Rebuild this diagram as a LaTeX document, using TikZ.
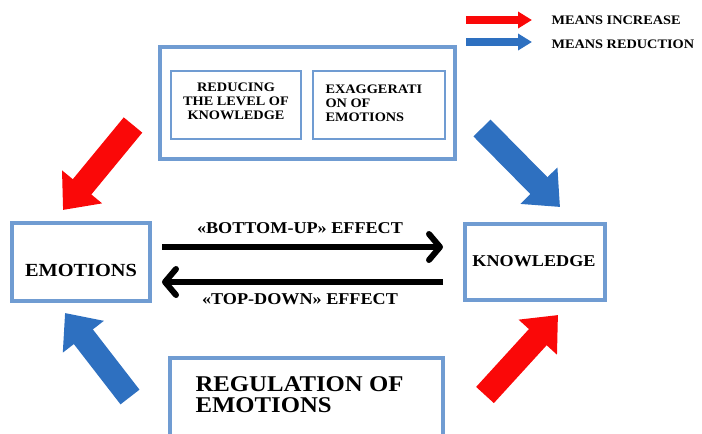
\documentclass[tikz,border=0pt]{standalone}
\usepackage{fontspec}
\setmainfont{Liberation Serif}[FakeStretch=1.1]
\usepackage{tikz}
\usetikzlibrary{arrows.meta}
\definecolor{frameblue}{RGB}{112,156,210}
\definecolor{arrowblue}{RGB}{46,112,192}
\definecolor{arrowred}{RGB}{250,8,8}

\begin{document}
\begin{tikzpicture}[x=1pt, y=-1pt,
  frame/.style={draw=frameblue, line width=4pt},
  thinframe/.style={draw=frameblue, line width=2.5pt},
  effect/.style={line width=6pt, -{Straight Barb[length=11pt,width=26pt,round]}},
  bigarrow/.style={line width=24pt, -{Triangle[length=30pt,width=50pt]}},
  keyarrow/.style={line width=8pt, -{Triangle[length=14pt,width=16pt]}}]
\useasboundingbox (0,0) rectangle (702,434);

% Legend
\coordinate (incA) at (466,20);
\coordinate (incB) at (532,20);
\coordinate (redA) at (466,42);
\coordinate (redB) at (532,42);
\draw[keyarrow, arrowred] (incA) -- (incB);
\draw[keyarrow, arrowblue] (redA) -- (redB);
\node[anchor=west, font=\fontsize{13}{15}\selectfont\bfseries] (inctext) at (548,20) {MEANS INCREASE};
\node[anchor=west, font=\fontsize{13}{15}\selectfont\bfseries] (redtext) at (548,44) {MEANS REDUCTION};

% Consequences block
\node[frame, minimum width=295, minimum height=112] (outer) at (307.5,103) {};
\node[thinframe, minimum width=130, minimum height=68] (reduce) at (236,105) {};
\node[thinframe, minimum width=132, minimum height=68] (exagg) at (379,105) {};
\node[align=center, font=\fontsize{13}{13.8}\selectfont\bfseries] (reducetext) at (236,101)
  {REDUCING\\THE LEVEL OF\\KNOWLEDGE};
\node[align=left, anchor=west, font=\fontsize{13}{13.8}\selectfont\bfseries] (exaggtext) at (322,103)
  {EXAGGERATI\\ON OF\\EMOTIONS};

% Emotions and knowledge
\node[frame, minimum width=138, minimum height=78] (emo) at (81,262) {};
\node[font=\fontsize{18.5}{21}\selectfont\bfseries] (emotext) at (81,270) {EMOTIONS};
\node[frame, minimum width=140, minimum height=76] (know) at (535,262) {};
\node[font=\fontsize{16.5}{19}\selectfont\bfseries] (knowtext) at (534,261) {KNOWLEDGE};

% Bottom-up and top-down effects
\draw[effect, shorten <=10pt, shorten >=20pt] ([yshift=15pt]emo.east) -- ([yshift=15pt]know.west);
\draw[effect, shorten <=20pt, shorten >=10pt] ([yshift=-20pt]know.west) -- ([yshift=-20pt]emo.east);
\node[font=\fontsize{16.5}{19}\selectfont\bfseries] (bottomup) at (300,228) {«BOTTOM-UP» EFFECT};
\node[font=\fontsize{16.5}{19}\selectfont\bfseries] (topdown) at (300,299) {«TOP-DOWN» EFFECT};

% Regulation block
\node[frame, minimum width=273, minimum height=80] (regul) at (306.5,398) {};
\node[align=left, anchor=west, font=\fontsize{22.5}{21}\selectfont\bfseries] (regultext) at (192,395)
  {REGULATION OF\\EMOTIONS};

% Block arrows
\coordinate (tlA) at (133,125);
\coordinate (tlB) at (63,210);
\coordinate (trA) at (482,128);
\coordinate (trB) at (560,207);
\coordinate (blA) at (130,397);
\coordinate (blB) at (65,313);
\coordinate (brA) at (485,395);
\coordinate (brB) at (558,315);
\draw[bigarrow, arrowred] (tlA) -- (tlB);
\draw[bigarrow, arrowblue] (trA) -- (trB);
\draw[bigarrow, arrowblue] (blA) -- (blB);
\draw[bigarrow, arrowred] (brA) -- (brB);
\end{tikzpicture}
\end{document}
